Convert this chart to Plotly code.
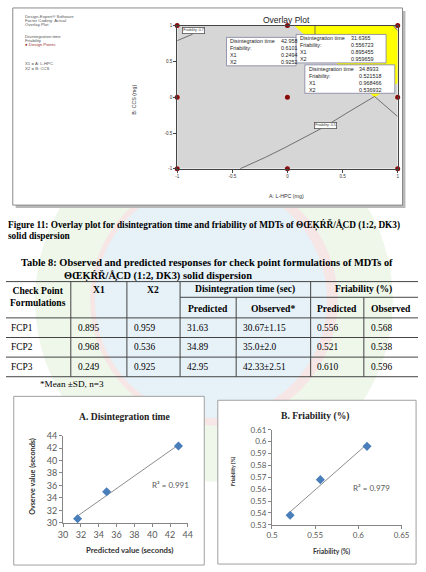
import numpy as np
import plotly.graph_objects as go

W, H = 426, 572
def px(x): return x / W
def py(y): return 1 - y / H

# ---------------- data ----------------
design_x = [-1, 0, 1, -1, 0, 1, -1, 0, 1]
design_y = [-1, -1, -1, 0, 0, 0, 1, 1, 1]

yellow_x = [0.06, 0.96, 1.0, 1.0, 0.79, 0.06]
yellow_y = [1.0, 1.0, 0.93, 0.2, 0.0, 1.0]

fr05_x = [-0.43, -0.2, -0.03, 0.15, 0.34, 0.55, 0.79]
fr05_y = [-1.0, -0.84, -0.71, -0.566, -0.41, -0.21, 0.01]
fr07_x = [-1.0, -0.86]
fr07_y = [0.79, 0.88]
dt_x = [0.79, 1.0]
dt_y = [0.01, -0.27]
top_x = [0.25, 0.25]
top_y = [1.0, 0.87]
corner_x = [0.96, 1.0]
corner_y = [1.0, 0.93]

overlay_ticks = [-1, -0.5, 0, 0.5, 1]
overlay_ticktext = ["-1", "-0.5", "0", "0.5", "1"]

flag_labels = ["Disintegration time", "Friability:", "X1", "X2"]
flag1_vals = ["42.958", "0.6101", "0.2494", "0.9252"]
flag2_vals = ["31.6365", "0.556723", "0.895455", "0.959659"]
flag3_vals = ["34.8933", "0.521518", "0.968466", "0.536932"]

cp_labels = ["FCP1", "FCP2", "FCP3"]
x1 = [0.895, 0.968, 0.249]
x2 = [0.959, 0.536, 0.925]
dt_pred = [31.63, 34.89, 42.95]
dt_obs = [30.67, 35.0, 42.33]
dt_sd = [1.15, 2.0, 2.51]
fr_pred = [0.556, 0.521, 0.610]
fr_obs = [0.568, 0.538, 0.596]

a_ticks = [30, 32, 34, 36, 38, 40, 42, 44]
b_xticks = [0.5, 0.55, 0.6, 0.65]
b_xticktext = ["0.5", "0.55", "0.6", "0.65"]
b_yticks = [0.53, 0.54, 0.55, 0.56, 0.57, 0.58, 0.59, 0.6, 0.61]
b_yticktext = ["0.53", "0.54", "0.55", "0.56", "0.57", "0.58", "0.59", "0.6", "0.61"]

r2_a = "R² = 0.991"
r2_b = "R² = 0.979"

SANS = "Liberation Sans"
SERIF = "Liberation Serif"
CAL = "Lato"

fig = go.Figure()
shapes = []
ann = []

def text(x, y, s, size, family=SANS, color="#000", xanchor="left", yanchor="middle", bold=False, align="left", **kw):
    if bold:
        s = "<b>" + s + "</b>"
    d = dict(x=px(x), y=py(y), xref="paper", yref="paper", text=s, showarrow=False, align=align,
             font=dict(size=size, family=family, color=color), xanchor=xanchor, yanchor=yanchor)
    d.update(kw)
    ann.append(d)

def circle(cx, cy, r, fill, line=None):
    shapes.append(dict(type="circle", xref="paper", yref="paper", x0=px(cx - r), x1=px(cx + r),
                       y0=py(cy + r), y1=py(cy - r), fillcolor=fill,
                       line=line if line else dict(width=0), layer="below"))

# ---------------- faint watermark ----------------
circle(215, 300, 185, "#eef7ea")
circle(215, 300, 128, "#f7e6e6")
circle(212, 300, 120, "#e6f1f8")

# ---------------- overlay plot frame ----------------
shapes.append(dict(type="rect", xref="paper", yref="paper", x0=px(10), x1=px(413), y0=py(206), y1=py(5),
                   fillcolor="#b8b8b8", line_width=0, layer="below"))
shapes.append(dict(type="rect", xref="paper", yref="paper", x0=px(7), x1=px(410), y0=py(203), y1=py(2),
                   fillcolor="white", line=dict(color="#8a8a8a", width=1), layer="below"))
shapes.append(dict(type="rect", xref="x", yref="y", x0=-1, x1=1, y0=-1, y1=1,
                   fillcolor="#d6d6d6", line_width=0, layer="below"))

fig.add_trace(go.Scatter(x=yellow_x, y=yellow_y, fill="toself", fillcolor="#ffff00", mode="lines",
                         line=dict(width=0), xaxis="x", yaxis="y", hoverinfo="skip"))
for cx, cy in [(fr05_x, fr05_y), (fr07_x, fr07_y), (dt_x, dt_y), (top_x, top_y), (corner_x, corner_y)]:
    fig.add_trace(go.Scatter(x=cx, y=cy, mode="lines", line=dict(color="#555", width=0.8),
                             xaxis="x", yaxis="y", hoverinfo="skip"))
fig.add_trace(go.Scatter(x=design_x, y=design_y, mode="markers",
                         marker=dict(color="#8b0a0a", size=5), xaxis="x", yaxis="y", cliponaxis=False))

# left legend text
left_lines = [("Design-Expert® Software", 11, "#555"), ("Factor Coding: Actual", 15, "#555"),
              ("Overlay Plot", 19, "#555"), ("Disintegration time", 31, "#555"),
              ("Friability", 35, "#555"), ("● Design Points", 39.5, "#a03030"),
              ("X1 = A: L-HPC", 59, "#555"), ("X2 = B: CCS", 64, "#555")]
for s, yy, c in left_lines:
    text(18, yy, s, 4.3, color=c)

text(290, 14, "Overlay Plot", 8.5, color="#222", xanchor="center")
text(290, 194, "A: L-HPC (mg)", 5.3, color="#333", xanchor="center")
text(132, 96, "B: CCS (mg)", 5.3, color="#333", xanchor="center", textangle=-90)

# contour labels
text(193.5, 24.5, "Friability: 0.7", 3.6, color="#333", xanchor="center",
     bgcolor="white", bordercolor="#555", borderwidth=0.8, borderpad=0.5)
text(330.5, 121.5, "Friability: 0.5", 3.6, color="#333", xanchor="center",
     bgcolor="white", bordercolor="#555", borderwidth=0.8, borderpad=0.5)

# flag boxes
def flag(x0, y0, x1_, y1_, lx, vx, cy, vals):
    shapes.append(dict(type="rect", xref="paper", yref="paper", x0=px(x0), x1=px(x1_), y0=py(y1_), y1=py(y0),
                       fillcolor="white", line=dict(color="#8080a0", width=0.8), layer="above"))
    text(lx, cy, "<br>".join(flag_labels), 5.4, color="#222")
    text(vx, cy, "<br>".join(vals), 5.4, color="#222")

flag(228, 32, 300, 61, 229.5, 282, 46.5, flag1_vals)
flag(300, 29, 393, 58, 302, 355, 43.5, flag2_vals)
flag(309, 60, 402, 89, 311, 363, 74.5, flag3_vals)

# ---------------- captions ----------------
garb = "ΘŒĶŔŘ/Å̧CD"
text(0, 223, "Figure 11: Overlay plot for disintegration time and friability of MDTs of " + garb + " (1:2, DK3)",
     9.3, family=SERIF, bold=True)
text(0, 235, "solid dispersion", 9.3, family=SERIF, bold=True)
text(13, 262, "Table 8: Observed and predicted responses for check point formulations of MDTs of",
     10.4, family=SERIF, bold=True)
text(58, 275, garb + " (1:2, DK3) solid dispersion", 10.4, family=SERIF, bold=True)

# ---------------- table ----------------
LC = "#444"
def hline(y, xa, xb):
    shapes.append(dict(type="line", xref="paper", yref="paper", x0=px(xa), x1=px(xb), y0=py(y), y1=py(y),
                       line=dict(color=LC, width=1)))
def vline(x, ya, yb):
    shapes.append(dict(type="line", xref="paper", yref="paper", x0=px(x), x1=px(x), y0=py(ya), y1=py(yb),
                       line=dict(color=LC, width=1)))

col_left = [0, 67, 125, 180, 238, 315, 370]
row_top = [318, 338, 358]
row_h = 20
hline(281, 0, 426)
hline(297, 180, 426)
hline(318, 0, 426)
for rt in row_top:
    hline(rt + row_h, 0, 426)
for xv in [67, 125, 180, 315]:
    vline(xv, 281, 378)
for xv in [238, 370]:
    vline(xv, 297, 378)

HS = 9.6
text(33, 296, "Check Point<br>Formulations", HS, family=SERIF, bold=True, xanchor="center", align="center")
text(96, 289, "X1", HS, family=SERIF, bold=True, xanchor="center")
text(152, 289, "X2", HS, family=SERIF, bold=True, xanchor="center")
text(247, 289, "Disintegration time (sec)", HS, family=SERIF, bold=True, xanchor="center")
text(370, 289, "Friability (%)", HS, family=SERIF, bold=True, xanchor="center")
for xc, s in [(209, "Predicted"), (276, "Observed*"), (342, "Predicted"), (398, "Observed")]:
    text(xc, 308, s, HS, family=SERIF, bold=True, xanchor="center")

for i in range(len(cp_labels)):
    cells = [cp_labels[i], f"{x1[i]:.3f}", f"{x2[i]:.3f}", f"{dt_pred[i]:.2f}",
             f"{dt_obs[i]}±{dt_sd[i]}", f"{fr_pred[i]:.3f}", f"{fr_obs[i]:.3f}"]
    yc = row_top[i] + row_h / 2
    for j, s in enumerate(cells):
        text(col_left[j] + (3 if j == 0 else 5), yc, s, 9.4, family=SERIF)

text(33, 385, "*Mean ±SD, n=3", 9.2, family=SERIF)

# ---------------- bottom charts ----------------
shapes.append(dict(type="rect", xref="paper", yref="paper", x0=px(8), x1=px(205), y0=py(570), y1=py(398),
                   fillcolor="white", line=dict(color="#a0a0a0", width=1), layer="below"))
shapes.append(dict(type="rect", xref="paper", yref="paper", x0=px(219), x1=px(424), y0=py(569), y1=py(402),
                   fillcolor="white", line=dict(color="#a0a0a0", width=1), layer="below"))

def trend(xs, ys, xa, ya):
    k, b = np.polyfit(xs, ys, 1)
    tx = np.array([min(xs), max(xs)])
    fig.add_trace(go.Scatter(x=tx, y=k * tx + b, mode="lines", line=dict(color="#8c8c8c", width=1),
                             xaxis=xa, yaxis=ya, hoverinfo="skip"))
    fig.add_trace(go.Scatter(x=xs, y=ys, mode="markers", marker=dict(symbol="diamond", size=7, color="#4a7ebb"),
                             xaxis=xa, yaxis=ya, cliponaxis=False))

trend(dt_pred, dt_obs, "x2", "y2")
trend(fr_pred, fr_obs, "x3", "y3")

text(123, 419, "A. Disintegration time", 9.6, family=SERIF, bold=True, color="#222", xanchor="center")
text(320, 418, "B. Friability (%)", 9.6, family=SERIF, bold=True, color="#222", xanchor="center")
text(128, 555, "Predicted value (seconds)", 7.8, family=CAL, bold=True, color="#333", xanchor="center")
text(28, 480, "Ovserve value (seconds)", 7.2, family=CAL, bold=True, color="#333", xanchor="center", textangle=-90)
text(337, 556, "Friability (%)", 6.8, family=CAL, bold=True, color="#333", xanchor="center")
text(235, 474, "Friability (%)", 5.4, family=CAL, bold=True, color="#333", xanchor="center", textangle=-90)
ann.append(dict(x=42.0, y=36.1, xref="x2", yref="y2", text=r2_a, showarrow=False,
                font=dict(size=8, family=CAL, color="#595959")))
ann.append(dict(x=0.615, y=0.561, xref="x3", yref="y3", text=r2_b, showarrow=False,
                font=dict(size=8, family=CAL, color="#595959")))

ov_axis = dict(showline=True, mirror=True, linecolor="#444", linewidth=1, ticks="outside", ticklen=3,
               tickcolor="#444", showgrid=False, zeroline=False, tickfont=dict(size=4.5, family=SANS, color="#333"),
               range=[-1, 1], tickvals=overlay_ticks, ticktext=overlay_ticktext)
xl_axis = dict(showline=True, linecolor="#868686", linewidth=1, ticks="outside", ticklen=3, tickcolor="#868686",
               showgrid=False, zeroline=False)

fig.update_layout(
    width=W, height=H, margin=dict(l=0, r=0, t=0, b=0), showlegend=False,
    paper_bgcolor="white", plot_bgcolor="rgba(0,0,0,0)",
    xaxis=dict(domain=[px(177), px(405)], anchor="y", **ov_axis),
    yaxis=dict(domain=[py(166), py(20)], anchor="x", **ov_axis),
    xaxis2=dict(domain=[px(59), px(188)], anchor="y2", range=[30, 44], tickvals=a_ticks,
                tickfont=dict(size=9, family=CAL, color="#595959"), **xl_axis),
    yaxis2=dict(domain=[py(527), py(438)], anchor="x2", range=[30, 44], tickvals=a_ticks,
                tickfont=dict(size=9, family=CAL, color="#595959"), **xl_axis),
    xaxis3=dict(domain=[px(275), px(409)], anchor="y3", range=[0.5, 0.65], tickvals=b_xticks,
                ticktext=b_xticktext, tickfont=dict(size=8, family=CAL, color="#595959"), **xl_axis),
    yaxis3=dict(domain=[py(529), py(432)], anchor="x3", range=[0.53, 0.61], tickvals=b_yticks,
                ticktext=b_yticktext, tickfont=dict(size=8, family=CAL, color="#595959"), **xl_axis),
    shapes=shapes, annotations=ann,
)

fig.write_html("out.html")
